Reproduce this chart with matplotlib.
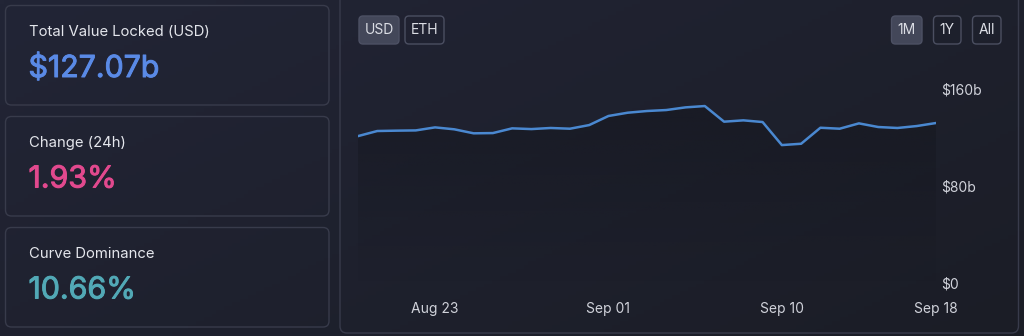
import numpy as np
import pandas as pd
import matplotlib
matplotlib.use("Agg")
import matplotlib.pyplot as plt
import matplotlib.dates as mdates
import matplotlib.patheffects as pe
from matplotlib.patches import FancyBboxPatch

plt.rcParams['font.family'] = ['Inter', 'DejaVu Sans']

# --- data (daily TVL, billions USD) ---
dates = pd.date_range("2021-08-19", "2021-09-18", freq="D")
tvl = [120.9, 125.1, 125.4, 125.6, 128.1, 126.5, 123.2, 123.4, 127.3, 126.7,
       127.6, 127.0, 130.0, 137.5, 140.2, 141.6, 142.4, 144.6, 145.7, 132.8,
       133.9, 132.5, 113.5, 114.6, 127.8, 127.0, 131.4, 128.4, 127.6, 129.2,
       131.7]
tick_dates = ["2021-08-23", "2021-09-01", "2021-09-10", "2021-09-18"]
y_ticks = [0, 80, 160]
y_tick_labels = ["$0", "$80b", "$160b"]

cards = [("Total Value Locked (USD)", "$127.07b", "#5a8ae6"),
         ("Change (24h)", "1.93%", "#e2498e"),
         ("Curve Dominance", "10.66%", "#52a9b6")]
currency_buttons = ["USD", "ETH"]
range_buttons = ["1M", "1Y", "All"]

W, H = 1024, 336
fig = plt.figure(figsize=(W / 100, H / 100), dpi=100)

# background with a faint diagonal gradient
bg = fig.add_axes([0, 0, 1, 1])
bg.set_xlim(0, W)
bg.set_ylim(H, 0)
bg.axis("off")
gx, gy = np.meshgrid(np.linspace(0, 1, 256), np.linspace(0, 1, 90))
grad = 0.6 * gx + 0.4 * gy
c0 = np.array([0x22, 0x25, 0x36]) / 255
c1 = np.array([0x1b, 0x1d, 0x26]) / 255
img = c0[None, None, :] * (1 - grad[..., None]) + c1[None, None, :] * grad[..., None]
bg.imshow(img, extent=[0, W, H, 0], aspect="auto", zorder=0)

border = "#383b4b"


def rbox(x0, y0, x1, y1, r=5, fc="none", ec=border, lw=1.0):
    p = FancyBboxPatch((x0 + r, y0 + r), (x1 - x0) - 2 * r, (y1 - y0) - 2 * r,
                       boxstyle=f"round,pad={r}", fc=fc, ec=ec, lw=lw, zorder=2)
    bg.add_patch(p)


# left cards
card_tops = [5, 116, 227]
for (label, value, color), top in zip(cards, card_tops):
    rbox(5.5, top + 0.5, 329, top + 100, r=6)
    bg.text(29, top + 27, label, color="#e4e6ec", fontsize=10.7,
            va="center", ha="left", zorder=3)
    bg.text(28.5, top + 63.5, value, color=color, fontsize=21.8,
            va="center", ha="left", zorder=3,
            path_effects=[pe.withStroke(linewidth=0.7, foreground=color)])

# right panel
rbox(340, -20, 1018.5, 333, r=7)

# buttons
btn_specs = [("USD", 359, 399, True), ("ETH", 405, 444, False),
             ("1M", 891.5, 922, True), ("1Y", 933.5, 961, False), ("All", 972.5, 1001, False)]
for txt, x0, x1, active in btn_specs:
    if active:
        rbox(x0, 16, x1, 44, r=4, fc="#434759", ec="#4d5164")
    else:
        rbox(x0, 16, x1, 44, r=4, fc="none", ec="#4b4f61")
    bg.text((x0 + x1) / 2, 30.5, txt, color="#dcdee5", fontsize=10,
            ha="center", va="center", zorder=3)

# chart axes
left, right, top_px, bot_px = 358, 936, 88.7, 282.7
ax = fig.add_axes([left / W, (H - bot_px) / H, (right - left) / W, (bot_px - top_px) / H])
ax.patch.set_alpha(0)
ax.set_xlim(dates[0], dates[-1])
ax.set_ylim(0, 160)

# darker gradient fill under the line
xnum = mdates.date2num(dates)
fill = ax.fill_between(dates, tvl, 0, color="none", lw=0)
grad_img = np.zeros((100, 2, 4))
grad_img[..., :3] = np.array([0x15, 0x17, 0x1f]) / 255
grad_img[..., 3] = np.linspace(0.0, 0.55, 100)[:, None]
im = ax.imshow(grad_img, extent=[xnum[0], xnum[-1], 0, max(tvl)], aspect="auto",
               origin="lower", zorder=1)
im.set_clip_path(fill.get_paths()[0], transform=ax.transData)

ax.plot(dates, tvl, color="#4a88d0", lw=1.8, solid_joinstyle="round", zorder=3)

for s in ax.spines.values():
    s.set_visible(False)
ax.yaxis.tick_right()
ax.set_yticks(y_ticks)
ax.set_yticklabels(y_tick_labels)
ax.set_xticks(pd.to_datetime(tick_dates))
ax.xaxis.set_major_formatter(mdates.DateFormatter("%b %d"))
ax.tick_params(axis="both", length=0, colors="#d0d2da", labelsize=10)
ax.tick_params(axis="x", pad=14)
ax.tick_params(axis="y", pad=4)

fig.savefig("out.png", dpi=100, facecolor="#1f2130")
